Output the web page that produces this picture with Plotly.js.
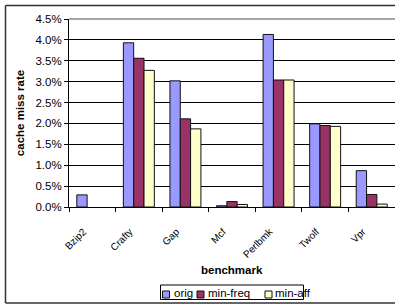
<!DOCTYPE html>
<html>
<head>
<meta charset="utf-8">
<script src="https://cdn.plot.ly/plotly-3.0.1.min.js"></script>
<style>html,body{margin:0;padding:0;background:#fff;}#chart{width:395px;height:308px;}</style>
</head>
<body>
<div id="chart"></div>
<script>
const categories = ['Bzip2', 'Crafty', 'Gap', 'Mcf', 'Perlbmk', 'Twolf', 'Vpr'];
const seriesNames = ['orig', 'min-freq', 'min-aff'];
const orig    = [0.0029, 0.0393, 0.0302, 0.0003, 0.0413, 0.0199, 0.0087];
const minFreq = [0,      0.0356, 0.0211, 0.0013, 0.0304, 0.0195, 0.0030];
const minAff  = [0,      0.0327, 0.0187, 0.0006, 0.0304, 0.0193, 0.0007];
const colors = ['#9999FF', '#993366', '#FFFFCC'];
const values = [orig, minFreq, minAff];
const xTitle = 'benchmark';
const yTitle = 'cache miss rate';

// plot area in pixels: x 69..395, y 19..207
const L = 69, R = 0, T = 19, B = 101, W = 395, H = 308;
const pw = W - L - R, ph = H - T - B;
const px = x => (x - L) / pw;
const py = y => (H - B - y) / ph;

const traces = seriesNames.map((n, i) => ({
  type: 'bar', name: n, x: categories, y: values[i], showlegend: false,
  marker: {color: colors[i], line: {color: '#111', width: values[i].map(v => v > 0 ? 1 : 0)}}
}));

const frame = {color: '#333', width: 1.5};
const shapes = [
  {type: 'line', xref: 'paper', yref: 'paper', x0: px(5.5), x1: px(W), y0: py(5.5), y1: py(5.5), line: frame},
  {type: 'line', xref: 'paper', yref: 'paper', x0: px(5.5), x1: px(5.5), y0: py(5.5), y1: py(303), line: frame},
  {type: 'line', xref: 'paper', yref: 'paper', x0: px(5.5), x1: px(W), y0: py(303), y1: py(303), line: frame},
  {type: 'line', xref: 'paper', yref: 'paper', x0: 0, x1: 1, y0: 1, y1: 1,
   line: {color: '#888', width: 1.5}},
  {type: 'rect', xref: 'paper', yref: 'paper', x0: px(160.5), x1: px(303.5), y0: py(299.5), y1: py(285),
   line: {color: '#000', width: 1}, fillcolor: '#fff'}
];
const annotations = [
  {xref: 'paper', yref: 'paper', x: 0.5, y: py(270), xanchor: 'center', yanchor: 'middle',
   text: '<b>' + xTitle + '</b>', showarrow: false, font: {size: 11.5, color: '#000'}}
];
// custom legend
const legendSym = [162.5, 197, 265];
const legendTxt = [172, 206, 273];
seriesNames.forEach((n, i) => {
  shapes.push({type: 'rect', xref: 'paper', yref: 'paper', x0: px(legendSym[i]), x1: px(legendSym[i] + 7),
    y0: py(298), y1: py(291), line: {color: '#111', width: 1}, fillcolor: colors[i]});
  annotations.push({xref: 'paper', yref: 'paper', x: px(legendTxt[i]), y: py(292.5), xanchor: 'left', yanchor: 'middle',
    text: n, showarrow: false, font: {size: 11.5, color: '#000'}});
});

const layout = {
  width: W, height: H,
  margin: {l: L, r: R, t: T, b: B, pad: 0},
  paper_bgcolor: '#fff', plot_bgcolor: '#fff',
  font: {family: 'Liberation Sans, Arial, sans-serif', size: 11.5, color: '#000'},
  barmode: 'group', bargap: 0.335, bargroupgap: 0,
  xaxis: {
    type: 'category', showline: true, linecolor: '#000', linewidth: 1,
    ticks: 'outside', tickson: 'boundaries', ticklen: 4, tickcolor: '#000',
    tickangle: -45, showgrid: false, ticklabelstandoff: 14, ticklabelshift: -9,
    tickfont: {size: 10}
  },
  yaxis: {
    range: [0, 0.045], dtick: 0.005, tickformat: '.1%',
    showgrid: true, gridcolor: '#000', gridwidth: 1, zeroline: false,
    showline: true, linecolor: '#000', linewidth: 1,
    ticks: 'outside', ticklen: 4, tickcolor: '#000',
    title: {text: '<b>' + yTitle + '</b>', font: {size: 11.5}, standoff: 8}
  },
  shapes: shapes,
  annotations: annotations,
  showlegend: false
};

Plotly.newPlot('chart', traces, layout, {displayModeBar: false, staticPlot: true});
</script>
</body>
</html>
